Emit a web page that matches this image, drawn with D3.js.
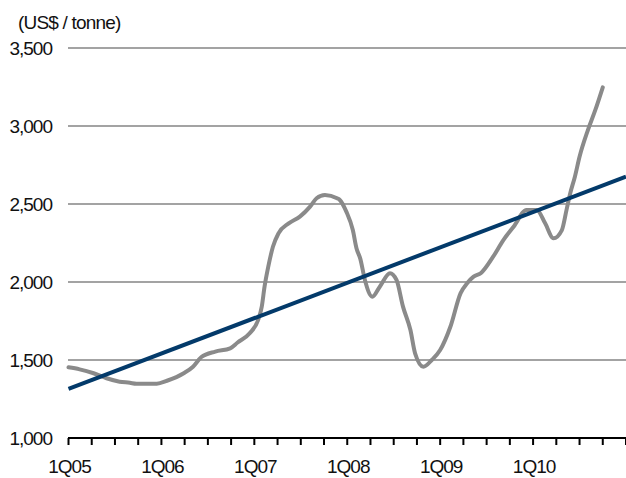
<!DOCTYPE html>
<html>
<head>
<meta charset="utf-8">
<script src="https://cdn.jsdelivr.net/npm/d3@7/dist/d3.min.js"></script>
<style>
  html, body { margin: 0; padding: 0; background: #fff; }
  svg { display: block; }
  text { font-family: "Liberation Sans", Arial, sans-serif; fill: #111; }
</style>
</head>
<body>
<svg id="chart" width="626" height="478"></svg>
<script>
// Price series: time in decimal years, price in US$ per tonne
const priceTime = [
  2005.00, 2005.12, 2005.27, 2005.41, 2005.55, 2005.66, 2005.73, 2005.95,
  2006.06, 2006.24, 2006.34, 2006.43, 2006.58, 2006.74, 2006.82, 2006.95,
  2007.04, 2007.08, 2007.11, 2007.15, 2007.20, 2007.26, 2007.37, 2007.49,
  2007.60, 2007.67, 2007.76, 2007.89, 2007.92, 2007.99, 2008.06, 2008.10,
  2008.14, 2008.19, 2008.27, 2008.35, 2008.46, 2008.53, 2008.60, 2008.68,
  2008.73, 2008.82, 2008.91, 2009.00, 2009.11, 2009.22, 2009.29, 2009.36,
  2009.44, 2009.57, 2009.68, 2009.79, 2009.93, 2010.04, 2010.13, 2010.22,
  2010.31, 2010.36, 2010.40, 2010.45, 2010.50, 2010.59, 2010.67, 2010.75
];
const priceValue = [
  1453, 1440, 1415, 1383, 1361, 1354, 1348, 1348,
  1367, 1415, 1457, 1519, 1554, 1575, 1612, 1671,
  1756, 1842, 1970, 2098, 2226, 2312, 2376, 2419,
  2483, 2537, 2558, 2537, 2526, 2451, 2333, 2215,
  2150, 2013, 1906, 1970, 2056, 2013, 1842, 1692,
  1543, 1457, 1500, 1564, 1713, 1929, 1992, 2034,
  2058, 2162, 2269, 2354, 2462, 2462, 2376, 2280,
  2333, 2462, 2569, 2675, 2803, 2974, 3103, 3248
];

// Linear trend from start to end of the axis
const trendTime = [2005, 2011];
const trendValue = [1315, 2675];

// Axis ticks
const yTicks = [1000, 1500, 2000, 2500, 3000, 3500];
const yearLabels = [2005, 2006, 2007, 2008, 2009, 2010];
const quarterTicks = d3.range(0, 25).map(k => 2005 + k / 4);

const svg = d3.select("#chart");
const x = d3.scaleLinear().domain([2005, 2011]).range([68.5, 626]);
const y = d3.scaleLinear().domain([1000, 3500]).range([438, 48]);

// Horizontal gridlines
svg.append("g").selectAll("line")
  .data(yTicks.filter(v => v > 1000))
  .join("line")
  .attr("x1", 68).attr("x2", 626)
  .attr("y1", d => y(d)).attr("y2", d => y(d))
  .attr("stroke", "#a3a3a3").attr("stroke-width", 2);

// Y tick labels
const fmt = d3.format(",");
svg.append("g").selectAll("text")
  .data(yTicks)
  .join("text")
  .attr("x", 52).attr("y", d => y(d) + 7)
  .attr("text-anchor", "end")
  .attr("font-size", 19).attr("letter-spacing", -1)
  .text(d => fmt(d));

// Unit label
svg.append("text")
  .attr("x", 18).attr("y", 29)
  .attr("font-size", 19).attr("letter-spacing", -0.8)
  .text("(US$ / tonne)");

// X axis line and quarter ticks
svg.append("line")
  .attr("x1", 68).attr("x2", 626)
  .attr("y1", y(1000)).attr("y2", y(1000))
  .attr("stroke", "#000").attr("stroke-width", 2);
svg.append("g").selectAll("line")
  .data(quarterTicks)
  .join("line")
  .attr("x1", d => x(d)).attr("x2", d => x(d))
  .attr("y1", y(1000)).attr("y2", y(1000) + 7)
  .attr("stroke", "#000").attr("stroke-width", 2);

// Year labels
svg.append("g").selectAll("text")
  .data(yearLabels)
  .join("text")
  .attr("x", d => x(d) + 1).attr("y", 473)
  .attr("text-anchor", "middle")
  .attr("font-size", 19).attr("letter-spacing", -1)
  .text(d => "1Q" + String(d).slice(2));

// Price line
const line = d3.line().x(d => x(d[0])).y(d => y(d[1])).curve(d3.curveMonotoneX);
svg.append("path")
  .datum(priceTime.map((t, i) => [t, priceValue[i]]))
  .attr("d", line)
  .attr("fill", "none")
  .attr("stroke", "#8a8a8a").attr("stroke-width", 4)
  .attr("stroke-linejoin", "round").attr("stroke-linecap", "round");

// Trend line
svg.append("path")
  .datum(trendTime.map((t, i) => [t, trendValue[i]]))
  .attr("d", d3.line().x(d => x(d[0])).y(d => y(d[1])))
  .attr("fill", "none")
  .attr("stroke", "#033a6a").attr("stroke-width", 4);
</script>
</body>
</html>
